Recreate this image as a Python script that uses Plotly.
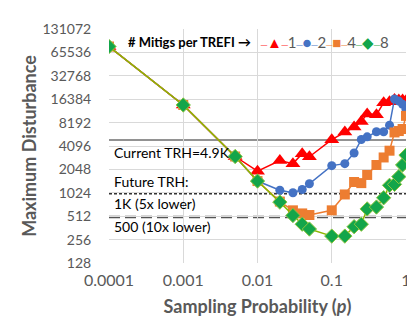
import numpy as np
import plotly.graph_objects as go

# sampling probabilities (x axis)
p = [0.0001, 0.001, 0.005, 0.01, 0.02, 0.03, 0.04, 0.05, 0.1, 0.15, 0.2,
     0.25, 0.3, 0.4, 0.5, 0.6, 0.7, 0.8, 0.9, 1.0]

# maximum disturbance, one list per number of mitigations per TREFI
mitig1 = [78000, 13800, 3000, 1940, 2660, 2430, 3260, 2980, 4940, 6210, 7180,
          8470, 10600, 10300, 14800, 15200, 16200, 16000, 16000, 15600]
mitig2 = [78000, 13800, 3000, 1450, 1106, 1024, 1130, 1340, 2290, 2430, 3330,
          4970, 5370, 6250, 6250, 7590, 16500, 15500, 14100, 12200]
mitig4 = [78000, 13800, 3000, 1450, 790, 609, 556, 530, 609, 975, 1410,
          1364, 1737, 2335, 2917, 3565, 6120, 6380, 6780, 10000]
mitig8 = [78000, 13800, 3000, 1450, 777, 523, 404, 350, 284, 284, 375,
          404, 635, 671, 884, 1278, 1315, 1653, 2335, 3125]

# thresholds
trh_current = 4900
trh_5x = 1000
trh_10x = 500

y_ticks = [2 ** k for k in range(7, 18)]
x_ticks = [0.0001, 0.001, 0.01, 0.1, 1]
x_labels = ["0.0001", "0.001", "0.01", "0.1", "1"]

FONT = "Lato"
GRAY = "#595959"

fig = go.Figure()

fig.add_trace(go.Scatter(x=p, y=mitig1, name="1", mode="lines+markers",
                         line=dict(color="#FF0000", width=1.5),
                         marker=dict(symbol="triangle-up", size=13, color="#FF0000")))
fig.add_trace(go.Scatter(x=p, y=mitig2, name="2", mode="lines+markers",
                         line=dict(color="#4472C4", width=1.5),
                         marker=dict(symbol="circle", size=9, color="#4472C4")))
fig.add_trace(go.Scatter(x=p, y=mitig4, name="4", mode="lines+markers",
                         line=dict(color="#ED7D31", width=1.5),
                         marker=dict(symbol="square", size=10, color="#ED7D31")))
fig.add_trace(go.Scatter(x=p, y=mitig8, name="8", mode="lines+markers",
                         line=dict(color="#8DB600", width=1.5),
                         marker=dict(symbol="diamond", size=11, color="#13A54A",
                                     line=dict(color="#8DC63F", width=1))))

# threshold lines
fig.add_hline(y=trh_current, line=dict(color="#6E6E6E", width=1.5), layer="below")
fig.add_hline(y=trh_5x, line=dict(color="#333333", width=2, dash="3px,2px"), layer="below")
fig.add_hline(y=trh_10x, line=dict(color="#555555", width=2.5, dash="11px,5px"), layer="below")

# threshold labels
for txt, yv in [("Current TRH=4.9K", 3400), ("Future TRH:", 1440),
                ("1K (5x lower)", 740), ("500 (10x lower)", 383)]:
    fig.add_annotation(x=-3.96, y=np.log10(yv), xref="x", yref="y", text=txt,
                       showarrow=False, xanchor="left", yanchor="middle",
                       font=dict(family=FONT, size=14, color="#000000"))

# legend drawn as text
fig.add_annotation(x=0.057, y=0.945, xref="paper", yref="paper",
                   text="<b># Mitigs per TREFI →</b>", showarrow=False,
                   xanchor="left", yanchor="middle",
                   font=dict(family=FONT, size=13, color="#000000"))
entries = [("▲", "#FF0000", "1"), ("●", "#4472C4", "2"),
           ("■", "#ED7D31", "4"), ("◆", "#13A54A", "8")]
leg = ""
for sym, col, lab in entries:
    leg += ("<span style='color:%s'><span style='font-size:8px'>─</span>%s"
            "<span style='font-size:8px'>─</span></span>%s" % (col, sym, lab))
fig.add_annotation(x=0.5, y=0.945, xref="paper", yref="paper",
                   text=leg, showarrow=False,
                   xanchor="left", yanchor="middle",
                   font=dict(family=FONT, size=15, color=GRAY))

fig.update_xaxes(type="log", range=[-4, 0], tickvals=x_ticks, ticktext=x_labels,
                 showgrid=True, gridcolor="#D9D9D9", gridwidth=1,
                 ticks="outside", ticklen=3, tickcolor="rgba(0,0,0,0)",
                 tickfont=dict(family=FONT, size=16, color=GRAY),
                 title=dict(text="<b>Sampling Probability (<i>p</i>)</b>", standoff=12,
                            font=dict(family=FONT, size=18, color=GRAY)))
fig.update_yaxes(type="log", range=[np.log10(128), np.log10(131072)],
                 tickvals=y_ticks, ticktext=[str(v) for v in y_ticks],
                 showgrid=True, gridcolor="#D9D9D9", gridwidth=1,
                 ticks="outside", ticklen=14, tickcolor="rgba(0,0,0,0)",
                 tickfont=dict(family=FONT, size=14, color=GRAY),
                 title=dict(text="<b>Maximum Disturbance</b>", standoff=1,
                            font=dict(family=FONT, size=18, color=GRAY)))

fig.update_layout(width=415, height=329, showlegend=False,
                  plot_bgcolor="white", paper_bgcolor="white",
                  margin=dict(l=101, r=15, t=14, b=74))

fig.write_html("out.html")
